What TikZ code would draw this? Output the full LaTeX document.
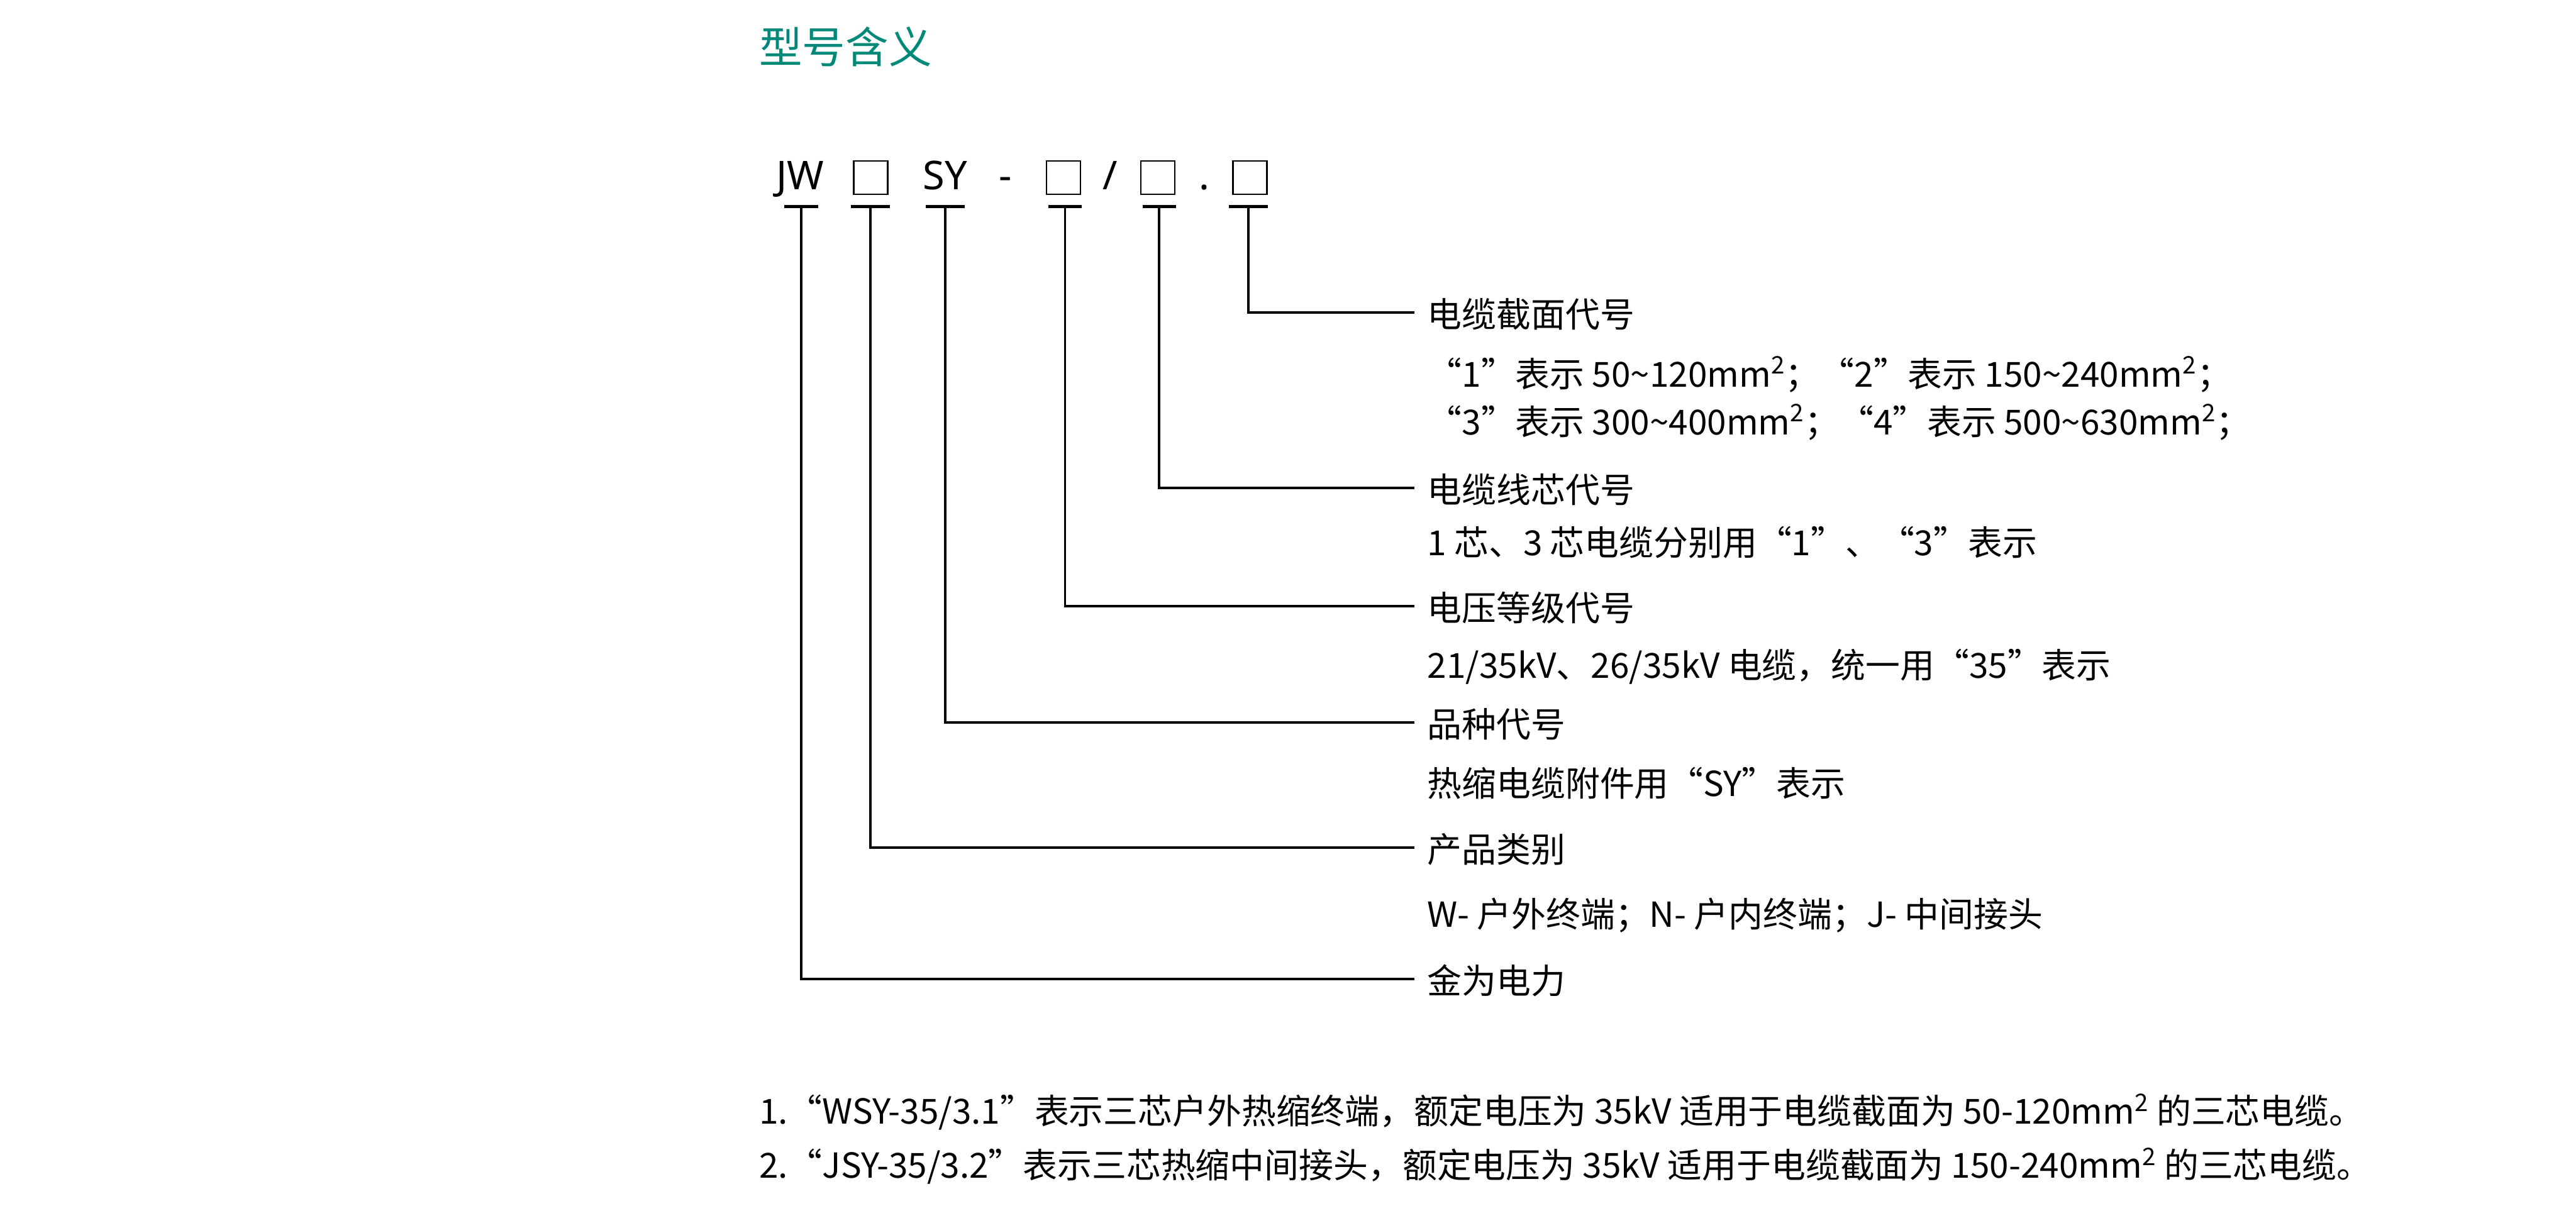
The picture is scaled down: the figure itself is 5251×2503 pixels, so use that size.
\documentclass[tikz,border=0pt]{standalone}
\usepackage{fontspec}
\setmainfont{Noto Sans CJK SC}
\newfontfamily\codefont{Noto Sans}
\newcommand\tld{\char"7E\relax}
\definecolor{headteal}{RGB}{0, 136, 120}

\begin{document}
\begin{tikzpicture}[x=0.01cm, y=-0.01cm,
    heading/.style={anchor=west, inner sep=0pt, text=headteal, font=\fontsize{25pt}{30pt}\selectfont},
    code/.style={anchor=base, inner sep=0pt, font=\codefont\fontsize{23pt}{28pt}\selectfont},
    slot/.style={draw, line width=0.85pt, minimum width=0.69cm, minimum height=0.68cm, inner sep=0pt},
    tbar/.style={fill=black, inner sep=0pt, minimum height=0.06cm},
    lab/.style={anchor=west, inner xsep=0.26cm, inner ysep=0pt, text height=0.8cm, text depth=0.2cm, font=\fontsize{20pt}{24pt}\selectfont},
    desc/.style={lab, inner xsep=0pt},
    conn/.style={line width=1.4pt}]
    \useasboundingbox (0,0) rectangle (5251,2503);

    % Title
    \node[heading] (head) at (1547,95) {型号含义};

    % Model code
    \node[code] (cJW) at (1631,387) {JW};
    \node[slot] (s1) at (1775,362) {};
    \node[code] (cSY) at (1927,387) {SY};
    \node[code] (cdash) at (2050,387) {-};
    \node[slot] (s2) at (2168,362) {};
    \node[code] (cslash) at (2263,387) {/};
    \node[slot] (s3) at (2360,362) {};
    \node[code] (cdot) at (2455,387) {.};
    \node[slot] (s4) at (2548,362) {};

    % Marks under the code
    \foreach \n/\x/\w in {1/1633/0.70, 2/1774/0.79, 3/1927/0.80, 4/2171/0.69, 5/2363/0.68, 6/2545/0.79} {
        \node[tbar, minimum width=\w cm] (t\n) at (\x,421) {};
    }

    % Meanings
    \node[lab] (l1) at (2883,637) {电缆截面代号};
    \node[desc] (d1a) at (2909,759) {“1”表示 50\tld120mm\textsuperscript{2}；“2”表示 150\tld240mm\textsuperscript{2}；};
    \node[desc] (d1b) at (2909,856) {“3”表示 300\tld400mm\textsuperscript{2}；“4”表示 500\tld630mm\textsuperscript{2}；};
    \node[lab] (l2) at (2883,995) {电缆线芯代号};
    \node[desc] (d2) at (2909,1102) {1 芯、3 芯电缆分别用“1”、“3”表示};
    \node[lab] (l3) at (2883,1236) {电压等级代号};
    \node[desc] (d3) at (2909,1353) {21/35kV、26/35kV 电缆，统一用“35”表示};
    \node[lab] (l4) at (2883,1473) {品种代号};
    \node[desc] (d4) at (2909,1594) {热缩电缆附件用“SY”表示};
    \node[lab] (l5) at (2883,1728) {产品类别};
    \node[desc] (d5) at (2909,1860) {W- 户外终端；N- 户内终端；J- 中间接头};
    \node[lab] (l6) at (2883,1996) {金为电力};

    % Connections
    \draw[conn] (t6.south) |- (l1.west);
    \draw[conn] (t5.south) |- (l2.west);
    \draw[conn] (t4.south) |- (l3.west);
    \draw[conn] (t3.south) |- (l4.west);
    \draw[conn] (t2.south) |- (l5.west);
    \draw[conn] (t1.south) |- (l6.west);

    % Examples
    \node[desc] (n1) at (1547,2262) {1.“WSY-35/3.1”表示三芯户外热缩终端，额定电压为 35kV 适用于电缆截面为 50-120mm\textsuperscript{2} 的三芯电缆。};
    \node[desc] (n2) at (1547,2372) {2.“JSY-35/3.2”表示三芯热缩中间接头，额定电压为 35kV 适用于电缆截面为 150-240mm\textsuperscript{2} 的三芯电缆。};
\end{tikzpicture}
\end{document}
